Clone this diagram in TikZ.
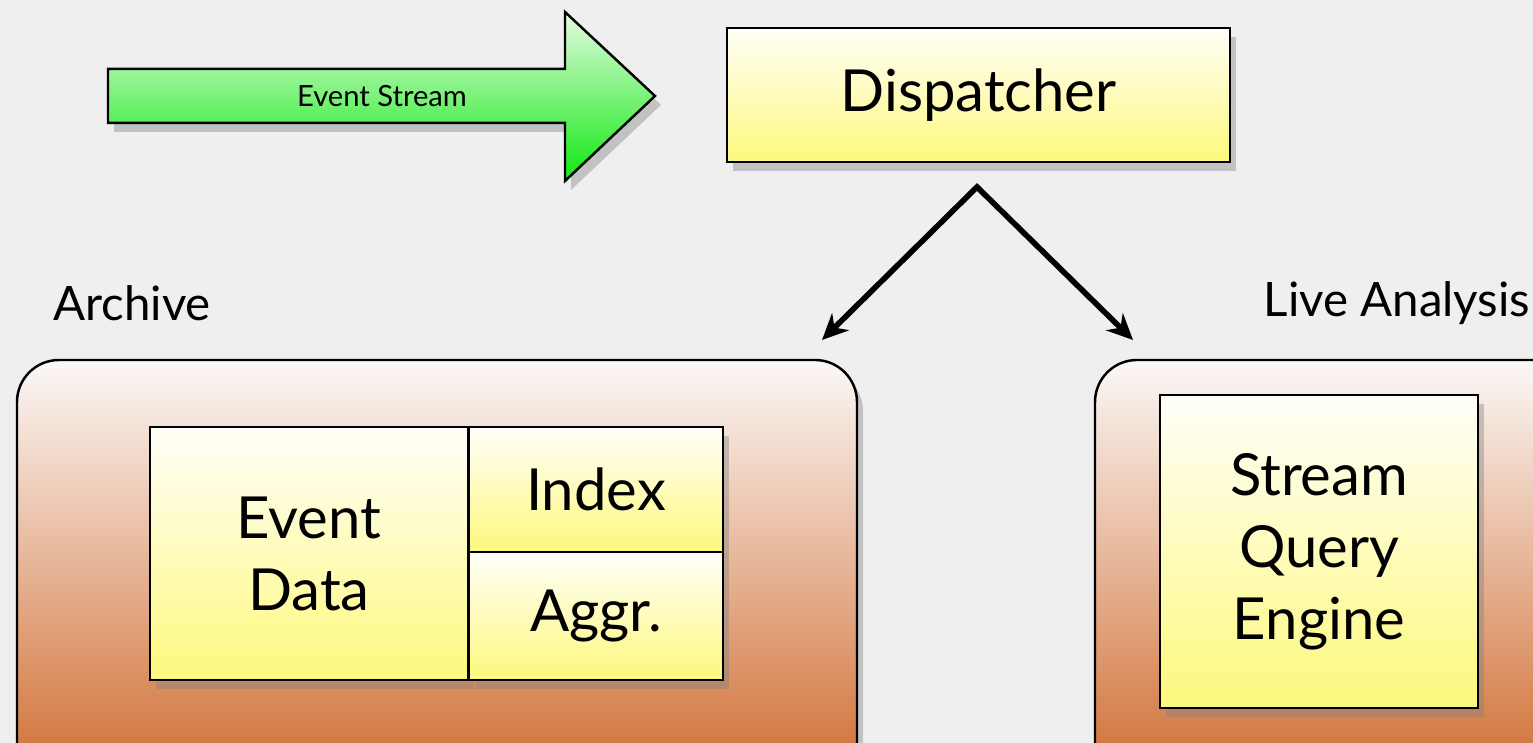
\documentclass[tikz,border=0pt]{standalone}
\usepackage{fontspec}
\setmainfont{Lato}
\usepackage{tikz}
\usetikzlibrary{shadows,arrows.meta}

\definecolor{bggray}{HTML}{EFEFEF}
\definecolor{yeltop}{HTML}{FFFFFA}
\definecolor{yelbot}{HTML}{FDF87C}
\definecolor{orgtop}{HTML}{FBF8F7}
\definecolor{orgbot}{HTML}{CF6A2C}
\definecolor{grntop}{HTML}{E4FCE2}
\definecolor{grnbot}{HTML}{10E810}

\tikzset{
    softshadow/.style={drop shadow={opacity=0.4, shadow xshift=0.6mm, shadow yshift=-0.9mm}},
    yelbox/.style={draw=black, line width=0.7pt, top color=yeltop, bottom color=yelbot,
        align=center, inner sep=0pt, font=\fontsize{16.5}{20.5}\selectfont, softshadow},
    orgbox/.style={draw=black, line width=0.7pt, rounded corners=0.42cm,
        top color=orgtop, bottom color=orgbot, inner sep=0pt, softshadow},
    grouplabel/.style={font=\fontsize{13.5}{16}\selectfont},
    flow/.style={line width=1.6pt, line join=miter,
        {Stealth[length=2.6mm, width=2.4mm]}-{Stealth[length=2.6mm, width=2.4mm]}}
}

\begin{document}
\begin{tikzpicture}
        \useasboundingbox (0,0) rectangle (15.33,7.43);
        \fill[bggray] (0,0) rectangle (15.33,7.43);
        \clip (0,0) rectangle (15.33,7.43);

        \shade[top color=grntop, bottom color=grnbot, draw=black, line width=0.7pt, softshadow]
            (1.08,6.20) -- (1.08,6.74) -- (5.65,6.74) -- (5.65,7.31) -- (6.55,6.47)
            -- (5.65,5.62) -- (5.65,6.20) -- cycle;
        \node[font=\fontsize{8.3}{10}\selectfont] (stream) at (3.82,6.47) {Event Stream};

        \node[yelbox, minimum width=5.03cm, minimum height=1.34cm] (disp) at (9.785,6.48) {Dispatcher};

        \node[grouplabel] (archlbl) at (1.32,4.40) {Archive};
        \node[grouplabel, anchor=east, inner xsep=0pt] (livelbl) at (15.31,4.40) {Live Analysis};

        \node[orgbox, minimum width=8.40cm, minimum height=4.33cm] (arch) at (4.37,1.665) {};
        \node[orgbox, minimum width=5.10cm, minimum height=4.33cm] (live) at (13.50,1.665) {};

        \node[yelbox, minimum width=3.18cm, minimum height=2.53cm] (evdata) at (3.09,1.895) {Event\\Data};
        \node[yelbox, minimum width=2.54cm, minimum height=1.25cm] (index) at (5.96,2.535) {Index};
        \node[yelbox, minimum width=2.54cm, minimum height=1.28cm] (aggr) at (5.96,1.27) {Aggr.};
        \node[yelbox, minimum width=3.18cm, minimum height=3.13cm] (sqe) at (13.19,1.915) {Stream\\Query\\Engine};

        \coordinate (fork) at (9.77,5.56);
        \coordinate (archin) at (8.22,4.03);
        \coordinate (livein) at (11.33,4.03);
        \draw[flow] (archin) -- (fork) -- (livein);
\end{tikzpicture}
\end{document}
